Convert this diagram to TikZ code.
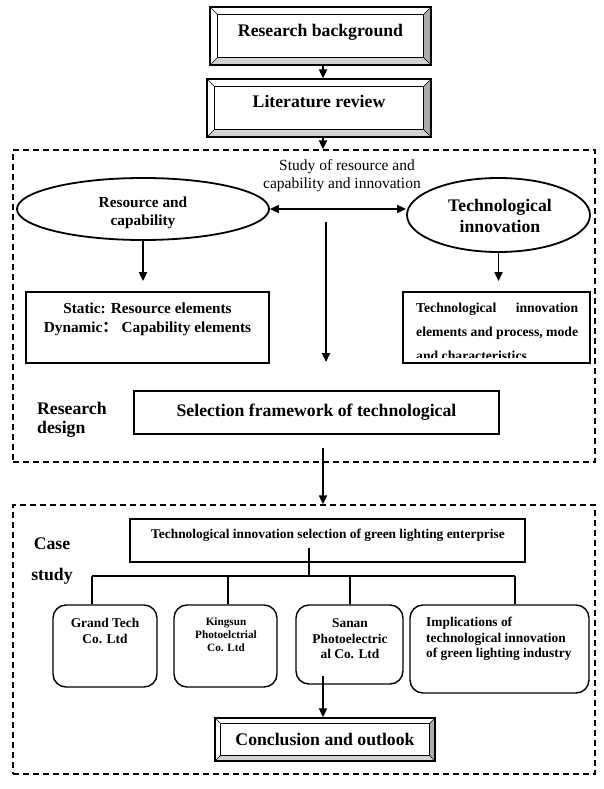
\documentclass[tikz,border=0pt]{standalone}
\usepackage{fontspec}
\setmainfont{Liberation Serif}
\newfontfamily\cjkfont{Noto Sans CJK SC}
\usetikzlibrary{arrows.meta,shapes.geometric,calc}

\newcommand\fbig{\fontsize{17.7}{20}\selectfont\bfseries}
\newcommand\fmid{\fontsize{15.3}{18}\selectfont\bfseries}
\newcommand\freg{\fontsize{15.5}{18}\selectfont}
\newcommand\fsm{\fontsize{13.4}{16}\selectfont\bfseries}
\newcommand\fxs{\fontsize{11.2}{13}\selectfont\bfseries}
\newcommand\frb{\fontsize{13.7}{24}\selectfont\bfseries}

\tikzset{
  arr/.style={line width=1.9pt, -{Triangle[length=9pt,width=8pt]}},
  arrs/.style={line width=1.9pt, {Triangle[length=9pt,width=8pt]}-{Triangle[length=9pt,width=8pt]}},
  dbox/.style={draw, dash pattern=on 6pt off 4pt, line width=1.3pt, inner sep=0pt},
  plainbox/.style={draw, line width=1.8pt, inner sep=0pt},
  rbox/.style={draw, line width=1.4pt, rounded corners=13pt, inner sep=0pt},
  oval/.style={draw, ellipse, line width=1.8pt, inner sep=0pt},
  tree/.style={line width=1.2pt},
  lbl/.style={inner sep=0pt, anchor=base},
}

% #1 name, #2 x1, #3 y1, #4 x2, #5 y2, #6 bevel depth, #7 baseline, #8 text
\newcommand\bevelbox[8]{%
  \fill[gray!65] (#4,#3) -- (#4,#5) -- ({#4-#6},{#5-#6}) -- ({#4-#6},{#3+#6}) -- cycle;
  \fill[gray!35] (#2,#5) -- (#4,#5) -- ({#4-#6},{#5-#6}) -- ({#2+#6},{#5-#6}) -- cycle;
  \draw[line width=0.6pt] (#2,#3) -- ({#2+#6},{#3+#6}) (#4,#3) -- ({#4-#6},{#3+#6})
     (#2,#5) -- ({#2+#6},{#5-#6}) (#4,#5) -- ({#4-#6},{#5-#6});
  \draw[line width=0.9pt] ({#2+#6},{#3+#6}) rectangle ({#4-#6},{#5-#6});
  \node[draw, line width=1.3pt, inner sep=0pt, minimum width={(#4-#2)*1pt},
        minimum height={(#5-#3)*1pt}] (#1) at ({(#2+#4)/2},{(#3+#5)/2}) {};
  \node[lbl, font=\fbig] (#1t) at ({(#2+#4)/2},#7) {#8};
}

\begin{document}
\begin{tikzpicture}[x=1pt,y=-1pt]
\useasboundingbox (0,0) rectangle (604,789);

% top boxes
\bevelbox{rb}{210}{7}{431}{65}{7.5}{37}{Research background}
\bevelbox{lr}{207}{79}{431}{137}{7.5}{107}{Literature review}

% dashed frames
\node[dbox, minimum width=582pt, minimum height=312pt] (d1) at (304,306) {};
\node[dbox, minimum width=582pt, minimum height=269pt] (d2) at (304,639.5) {};

\draw[arr] (rb.south -| 323,0) -- (lr.north -| 323,0);
\draw[arr] (lr.south -| 323,0) -- (d1.north -| 323,0);

% research design frame
\node[lbl, font=\freg] (st1) at (347,170) {Study of resource and};
\node[lbl, font=\freg] (st2) at (342,188) {capability and innovation};

\node[oval, minimum width=252pt, minimum height=62pt] (rc) at (143,209) {};
\node[lbl, font=\fmid] (rc1) at (143,207) {Resource and};
\node[lbl, font=\fmid] (rc2) at (143,225) {capability};

\node[oval, minimum width=183pt, minimum height=74pt] (ti) at (498.5,215) {};
\node[lbl, font=\fbig] (ti1) at (500,211) {Technological};
\node[lbl, font=\fbig] (ti2) at (500,232) {innovation};

\draw[arrs] (rc.east) -- (rc.east -| ti.west);

\node[plainbox, minimum width=243pt, minimum height=71pt] (sb) at (147.5,327.5) {};
\node[lbl, font=\fmid] (sb1) at (147.5,313) {Static: Resource elements};
\node[lbl, font=\fmid] (sb2) at (147.5,332) {Dynamic{\cjkfont ：}\ Capability elements};

\node[plainbox, minimum width=187pt, minimum height=71pt] (tb) at (496.5,327.5) {};
\node[lbl, anchor=base west, font=\frb] (tb1) at (416,312) {\makebox[162pt][s]{Technological\hfill innovation}};
\node[lbl, anchor=base west, font=\frb] (tb2) at (416,336) {\makebox[162pt][s]{elements and process, mode}};
\begin{scope}
  \clip (403,292) rectangle (590,357.5);
  \node[lbl, anchor=base west, font=\frb] (tb3) at (416,360) {and characteristics};
\end{scope}

\draw[arr, shorten >=10pt] (rc.south) -- (rc.south |- sb.north);
\draw[arr, shorten >=10pt] (ti.south) -- (ti.south |- tb.north);

\coordinate (ca) at (326,222);
\coordinate (cb) at (326,362);
\draw[arr] (ca) -- (cb);

\node[lbl, anchor=base west, font=\fbig] (rd1) at (37,414) {Research};
\node[lbl, anchor=base west, font=\fbig] (rd2) at (37,433) {design};

\node[plainbox, minimum width=365pt, minimum height=43pt] (fw) at (316.5,412.5) {};
\node[lbl, font=\fbig] (fwt) at (316.5,416) {Selection framework of technological};

\coordinate (fa) at (323,448);
\draw[arr] (fa) -- (d2.north -| fa);

% case study frame
\node[lbl, font=\fbig] (cs1) at (52,549) {Case};
\node[lbl, font=\fbig] (cs2) at (52,580) {study};

\node[plainbox, minimum width=395pt, minimum height=43pt] (gl) at (327.5,540.5) {};
\node[lbl, font=\fsm] (glt) at (328,538) {Technological innovation selection of green lighting enterprise};

\node[rbox, minimum width=104pt, minimum height=82pt] (g1) at (105,646) {};
\node[rbox, minimum width=103pt, minimum height=82pt] (g2) at (225.5,646) {};
\node[rbox, minimum width=107pt, minimum height=79pt] (g3) at (349.5,644.5) {};
\node[rbox, minimum width=179pt, minimum height=88pt] (g4) at (499.5,649) {};

\coordinate (tr0) at (309,548);
\coordinate (tr1) at (309,576);
\draw[tree] (tr0) -- (tr1);
\draw[tree] (92,576) -- (515,576);
\draw[tree] (92,576) -- (92,0 |- g1.north);
\draw[tree] (228,576) -- (228,0 |- g2.north);
\draw[tree] (350,576) -- (350,0 |- g3.north);
\draw[tree] (515,576) -- (515,0 |- g4.north);

\node[lbl, font=\fsm] (g1a) at (105,627) {Grand Tech};
\node[lbl, font=\fsm] (g1b) at (105,643) {Co. Ltd};

\node[lbl, font=\fxs] (g2a) at (226,625) {Kingsun};
\node[lbl, font=\fxs] (g2b) at (226,638) {Photoelctrial};
\node[lbl, font=\fxs] (g2c) at (226,651) {Co. Ltd};

\node[lbl, font=\fsm] (g3a) at (350,627) {Sanan};
\node[lbl, font=\fsm] (g3b) at (350,643) {Photoelectric};
\node[lbl, font=\fsm] (g3c) at (350,658) {al Co. Ltd};

\node[lbl, anchor=base west, font=\fsm] (g4a) at (426,626) {Implications of};
\node[lbl, anchor=base west, font=\fsm] (g4b) at (426,642) {technological innovation};
\node[lbl, anchor=base west, font=\fsm] (g4c) at (426,657) {of green lighting industry};

\bevelbox{co}{215}{718}{435}{761}{5.5}{745.5}{Conclusion and outlook}

\coordinate (sa) at (323,676);
\draw[arr] (sa) -- (co.north -| sa);

\end{tikzpicture}
\end{document}
